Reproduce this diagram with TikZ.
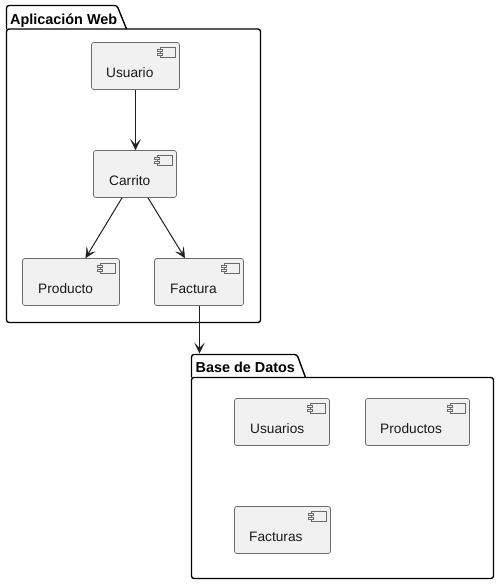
\documentclass[tikz,border=0pt]{standalone}
\usepackage{fontspec}
\setmainfont{Liberation Sans}
\usetikzlibrary{arrows.meta}
\tikzset{
  comp/.style={draw=black!58, line width=0.7pt, fill=black!5.5, rounded corners=2.5pt, inner sep=0pt, minimum height=47pt},
  lbl/.style={anchor=base west, inner sep=0pt, font=\fontsize{13.7}{16}\selectfont, text=black!90},
  pkg/.style={draw=black, line width=1.4pt, rounded corners=2.5pt, line join=round},
  pkgt/.style={anchor=base west, inner sep=0pt, font=\fontsize{14.4}{16}\selectfont\bfseries},
  conn/.style={draw=black!88, line width=1pt, -{Stealth[length=11pt,width=10.5pt,inset=5.5pt,line width=0.4pt]}},
  icn/.style={draw=black!58, line width=0.7pt, fill=black!5.5},
}
\newcommand{\compicon}[1]{%
  \draw[icn] ([xshift=-20pt,yshift=-5pt]#1.north east) rectangle ([xshift=-5pt,yshift=-15pt]#1.north east);
  \draw[icn] ([xshift=-23pt,yshift=-7.5pt]#1.north east) rectangle ([xshift=-18pt,yshift=-9.5pt]#1.north east);
  \draw[icn] ([xshift=-23pt,yshift=-11pt]#1.north east) rectangle ([xshift=-18pt,yshift=-13pt]#1.north east);
}
\begin{document}
\begin{tikzpicture}[x=1pt,y=-1pt]
\useasboundingbox (0,0) rectangle (499,584);
% packages
\draw[pkg] (6.5,29) -- (6.5,5.5) -- (117,5.5) -- (126.5,29);
\draw[pkg] (6.5,29) -- (260.5,29) -- (260.5,322.5) -- (6.5,322.5) -- cycle;
\node[pkgt] (webt) at (10,24) {Aplicación Web};
\draw[pkg] (191.5,377.5) -- (191.5,354.5) -- (297,354.5) -- (305.5,377.5);
\draw[pkg] (191.5,377.5) -- (493.5,377.5) -- (493.5,578.5) -- (191.5,578.5) -- cycle;
\node[pkgt] (baset) at (195.5,372) {Base de Datos};
\coordinate (basetop) at (199.5,353.5);
% components
\node[comp, minimum width=88pt] (usuario) at (135.5,66) {};
\node[comp, minimum width=83pt] (carrito) at (135,174) {};
\node[comp, minimum width=97pt] (producto) at (71,282) {};
\node[comp, minimum width=89pt] (factura) at (199,282) {};
\node[comp, minimum width=95pt] (usuarios) at (282,422) {};
\node[comp, minimum width=104pt] (productos) at (417.5,422) {};
\node[comp, minimum width=96pt] (facturas) at (282.5,530) {};
\compicon{usuario}\compicon{carrito}\compicon{producto}\compicon{factura}
\compicon{usuarios}\compicon{productos}\compicon{facturas}
\node[lbl] (t1) at (106,77) {Usuario};
\node[lbl] (t2) at (109,185) {Carrito};
\node[lbl] (t3) at (38,293) {Producto};
\node[lbl] (t4) at (170,293) {Factura};
\node[lbl] (t5) at (250,433) {Usuarios};
\node[lbl] (t6) at (380,433) {Productos};
\node[lbl] (t7) at (249,541) {Facturas};
% connectors
\draw[conn] (usuario.south) -- (usuario.south |- carrito.north);
\draw[conn] ([xshift=-13pt]carrito.south) -- ([xshift=14.5pt]producto.north);
\draw[conn] ([xshift=13pt]carrito.south) -- ([xshift=-14pt]factura.north);
\draw[conn] ([xshift=.5pt]factura.south) -- (basetop);
\end{tikzpicture}
\end{document}
